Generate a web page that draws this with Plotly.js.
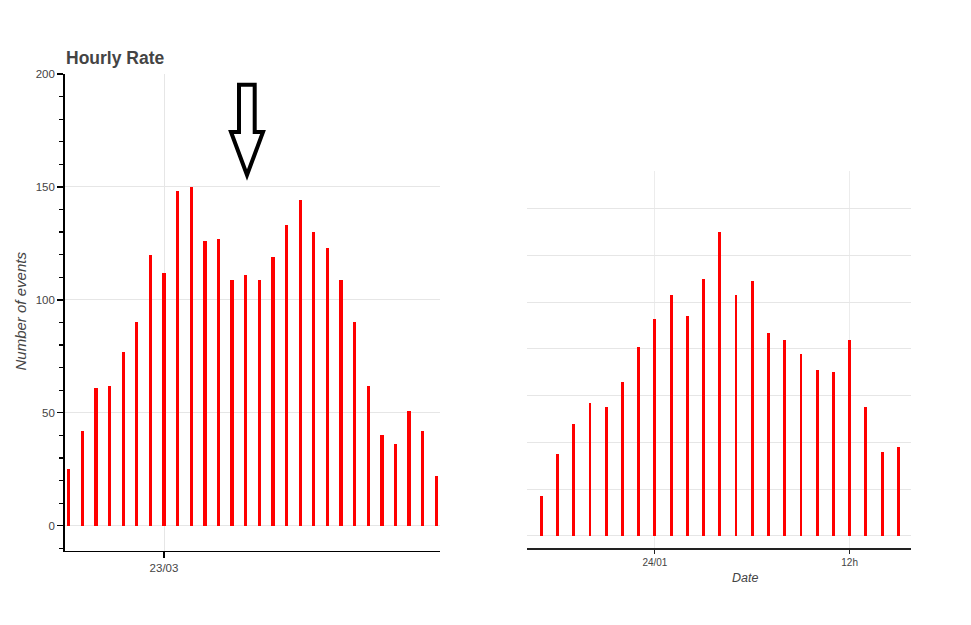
<!DOCTYPE html>
<html>
<head>
<meta charset="utf-8">
<script src="https://cdn.plot.ly/plotly-3.0.1.min.js"></script>
<style>html,body{margin:0;padding:0;background:#fff;}#chart{width:971px;height:625px;}</style>
</head>
<body>
<div id="chart"></div>
<script>
// ---- data: left chart (hourly counts) ----
const leftTimes = [
  '2021-03-22 17:00','2021-03-22 18:00','2021-03-22 19:00','2021-03-22 20:00',
  '2021-03-22 21:00','2021-03-22 22:00','2021-03-22 23:00','2021-03-23 00:00',
  '2021-03-23 01:00','2021-03-23 02:00','2021-03-23 03:00','2021-03-23 04:00',
  '2021-03-23 05:00','2021-03-23 06:00','2021-03-23 07:00','2021-03-23 08:00',
  '2021-03-23 09:00','2021-03-23 10:00','2021-03-23 11:00','2021-03-23 12:00',
  '2021-03-23 13:00','2021-03-23 14:00','2021-03-23 15:00','2021-03-23 16:00',
  '2021-03-23 17:00','2021-03-23 18:00','2021-03-23 19:00','2021-03-23 20:00'
];
const leftCounts = [25, 42, 61, 62, 77, 90, 120, 112, 148, 150, 126, 127, 109, 111,
                    109, 119, 133, 144, 130, 123, 109, 90, 62, 40, 36, 51, 42, 22];
const leftTickVals = ['2021-03-23 00:00'];
const leftTickText = ['23/03'];

// ---- data: right chart (hourly counts) ----
const rightTimes = [
  '2022-01-23 17:00','2022-01-23 18:00','2022-01-23 19:00','2022-01-23 20:00',
  '2022-01-23 21:00','2022-01-23 22:00','2022-01-23 23:00','2022-01-24 00:00',
  '2022-01-24 01:00','2022-01-24 02:00','2022-01-24 03:00','2022-01-24 04:00',
  '2022-01-24 05:00','2022-01-24 06:00','2022-01-24 07:00','2022-01-24 08:00',
  '2022-01-24 09:00','2022-01-24 10:00','2022-01-24 11:00','2022-01-24 12:00',
  '2022-01-24 13:00','2022-01-24 14:00','2022-01-24 15:00'
];
const rightCounts = [17, 35, 48, 57, 55, 66, 81, 93, 103, 94, 110, 130, 103, 109,
                     87, 84, 78, 71, 70, 84, 55, 36, 38];
const rightTickVals = ['2022-01-24 00:00', '2022-01-24 12:00'];
const rightTickText = ['24/01', '12h'];

// ---- layout helpers ----
const W = 971, H = 625;
const px = x => x / W;
const py = y => 1 - y / H;
function pathFromPixels(pts) {
  return 'M' + pts.map(p => px(p[0]).toFixed(5) + ',' + py(p[1]).toFixed(5)).join(' L') + ' Z';
}

const FONT = '"Liberation Sans", Arial, Helvetica, sans-serif';
const TXT = '#444444';
const GRID = '#e6e6e6';

const traces = [
  {
    type: 'bar', x: leftTimes, y: leftCounts, xaxis: 'x', yaxis: 'y',
    width: 14.5 * 60 * 1000,
    marker: {color: '#ff0000', line: {width: 0}},
    hoverinfo: 'x+y', showlegend: false
  },
  {
    type: 'bar', x: rightTimes, y: rightCounts, xaxis: 'x2', yaxis: 'y2',
    width: 10.5 * 60 * 1000,
    marker: {color: '#ff0000', line: {width: 0}},
    hoverinfo: 'x+y', showlegend: false
  }
];

const layout = {
  width: W, height: H,
  margin: {l: 0, r: 0, t: 0, b: 0, pad: 0},
  paper_bgcolor: '#ffffff', plot_bgcolor: '#ffffff',
  font: {family: FONT, color: TXT, size: 12},
  showlegend: false,
  bargap: 0,
  xaxis: {
    type: 'date', domain: [px(64.7), px(440)],
    range: ['2021-03-22 16:42:22', '2021-03-23 20:16:12'],
    tickmode: 'array', tickvals: leftTickVals, ticktext: leftTickText,
    ticks: 'outside', ticklen: 6, tickwidth: 1.3, tickcolor: '#000',
    tickfont: {family: FONT, size: 11.5, color: TXT},
    showline: true, linecolor: '#000', linewidth: 1.5,
    showgrid: true, gridcolor: GRID, gridwidth: 1,
    zeroline: false, fixedrange: true, anchor: 'y'
  },
  yaxis: {
    domain: [py(550.7), py(74)],
    range: [-11.07, 200],
    tickmode: 'linear', tick0: 0, dtick: 50,
    ticks: 'outside', ticklen: 6, tickwidth: 1.3, tickcolor: '#000',
    minor: {ticks: 'outside', tick0: 0, dtick: 10, ticklen: 4, tickwidth: 1.2, tickcolor: '#000', showgrid: false},
    tickfont: {family: FONT, size: 11.5, color: TXT},
    showline: true, linecolor: '#000', linewidth: 1.5,
    showgrid: true, gridcolor: GRID, gridwidth: 1,
    zeroline: false, fixedrange: true, anchor: 'x'
  },
  xaxis2: {
    type: 'date', domain: [px(526.7), px(910.7)],
    range: ['2022-01-23 16:06:00', '2022-01-24 15:45:50'],
    tickmode: 'array', tickvals: rightTickVals, ticktext: rightTickText,
    ticks: 'outside', ticklen: 4, tickwidth: 1, tickcolor: '#222',
    tickfont: {family: FONT, size: 10, color: TXT},
    showline: true, linecolor: '#222', linewidth: 1.2,
    showgrid: true, gridcolor: '#ececec', gridwidth: 1,
    zeroline: false, fixedrange: true, anchor: 'y2'
  },
  yaxis2: {
    domain: [py(548.3), py(171)],
    range: [-5.4, 156.2],
    tickmode: 'linear', tick0: 0, dtick: 20,
    showticklabels: false, ticks: '',
    showline: false,
    showgrid: true, gridcolor: GRID, gridwidth: 1,
    zeroline: false, fixedrange: true, anchor: 'x2'
  },
  annotations: [
    {
      text: '<b>Hourly Rate</b>', xref: 'paper', yref: 'paper',
      x: px(64), y: py(58), xanchor: 'left', yanchor: 'middle', showarrow: false,
      font: {family: FONT, size: 17.5, color: TXT}
    },
    {
      text: 'Number of events', xref: 'paper', yref: 'paper',
      x: px(19.5), y: py(311), xanchor: 'center', yanchor: 'middle', showarrow: false,
      textangle: -90,
      font: {family: FONT, size: 15, color: TXT, style: 'italic'}
    },
    {
      text: 'Date', xref: 'paper', yref: 'paper',
      x: px(745.3), y: py(577.7), xanchor: 'center', yanchor: 'middle', showarrow: false,
      font: {family: FONT, size: 12.5, color: TXT, style: 'italic'}
    }
  ],
  shapes: [
    {
      type: 'path', xref: 'paper', yref: 'paper',
      path: pathFromPixels([[239, 84.7], [254.7, 84.7], [254.7, 132], [263, 132],
                            [247, 175], [231, 132], [239, 132]]),
      line: {color: '#000', width: 4}, fillcolor: 'rgba(255,255,255,0)', layer: 'above'
    }
  ]
};

Plotly.newPlot('chart', traces, layout, {displayModeBar: false, staticPlot: true});
</script>
</body>
</html>
